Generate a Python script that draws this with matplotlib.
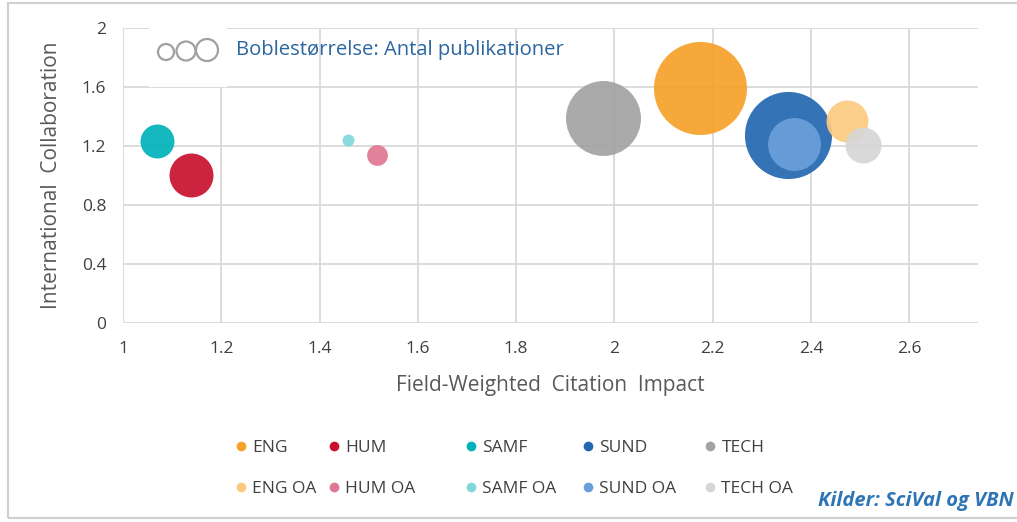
import matplotlib.pyplot as plt
from matplotlib.lines import Line2D
from matplotlib.patches import Ellipse, Rectangle
import numpy as np

plt.rcParams['font.family'] = ['Open Sans', 'DejaVu Sans']

# faculties, main series and open access series
names = ['ENG', 'HUM', 'SAMF', 'SUND', 'TECH']
oa_names = ['ENG OA', 'HUM OA', 'SAMF OA', 'SUND OA', 'TECH OA']

fwci = [2.175, 1.138, 1.069, 2.354, 1.977]
collab = [1.593, 1.003, 1.234, 1.275, 1.390]
pubs = [3000, 670, 400, 2630, 1950]

fwci_oa = [2.474, 1.517, 1.458, 2.365, 2.505]
collab_oa = [1.369, 1.139, 1.241, 1.214, 1.209]
pubs_oa = [610, 150, 50, 970, 450]

colors = ['#F7A12A', '#C8102E', '#00B2B9', '#2467B1', '#A3A3A3']
colors_oa = ['#FBCA80', '#E07792', '#80D8DC', '#6A9FDA', '#D6D6D6']

xticks = [1, 1.2, 1.4, 1.6, 1.8, 2, 2.2, 2.4, 2.6]
yticks = [0, 0.4, 0.8, 1.2, 1.6, 2]

W, H = 1017, 522
fig = plt.figure(figsize=(W / 100, H / 100), dpi=100)
ax = fig.add_axes([123 / W, 1 - 323 / H, (978 - 123) / W, (323 - 28) / H])

# bubble area proportional to number of publications
max_d = 93 * 0.72  # largest bubble diameter in points
scale = max_d ** 2 / max(pubs)
for i in range(5):
    ax.scatter(fwci[i], collab[i], s=pubs[i] * scale, color=colors[i],
               alpha=0.92, linewidths=0, zorder=3)
for i in range(5):
    ax.scatter(fwci_oa[i], collab_oa[i], s=pubs_oa[i] * scale, color=colors_oa[i],
               alpha=0.92, linewidths=0, zorder=3)

ax.set_xlim(1, 2.74)
ax.set_ylim(0, 2)
ax.set_xticks(xticks)
ax.set_xticklabels([f'{v:g}' for v in xticks])
ax.set_yticks(yticks)
ax.set_yticklabels([f'{v:g}' for v in yticks])
ax.grid(True, color='#D9D9D9', linewidth=1.3)
ax.set_axisbelow(True)
for s in ax.spines.values():
    s.set_visible(False)
ax.tick_params(length=0, labelsize=12.5, colors='#404040', pad=13)
ax.tick_params(axis='y', pad=12)

ax.set_xlabel('Field-Weighted  Citation  Impact', fontsize=15, color='#595959', labelpad=13)
ax.set_ylabel('International  Collaboration', fontsize=15, color='#595959', labelpad=14)

# bubble size note with little circle icon
fig.add_artist(Rectangle((149 / W, 1 - 87 / H), 78 / W, 62 / H, facecolor='white',
                         edgecolor='none', transform=fig.transFigure, zorder=5))
for cx, cy, d in [(166, 52, 16), (186, 51, 19), (207, 50, 22)]:
    fig.add_artist(Ellipse((cx / W, 1 - cy / H), d / W, d / H, facecolor='none',
                           edgecolor='#A0A0A0', linewidth=1.6,
                           transform=fig.transFigure, zorder=6))
fig.text(236 / W, 1 - 50 / H, 'Boblestørrelse: Antal publikationer', fontsize=14.6,
         color='#2A66A0', va='center', ha='left', zorder=6)

# legend, one small legend per column
col_x = [236, 329, 466, 583, 705]
for i in range(5):
    h = [Line2D([], [], marker='o', linestyle='none', markersize=7,
                markerfacecolor=colors[i], markeredgewidth=0, label=names[i]),
         Line2D([], [], marker='o', linestyle='none', markersize=7,
                markerfacecolor=colors_oa[i], markeredgewidth=0, label=oa_names[i])]
    fig.legend(handles=h, loc='upper left', bbox_to_anchor=(col_x[i] / W, 1 - 440 / H),
               frameon=False, fontsize=12.5, handlelength=0.6, handletextpad=0.35,
               labelspacing=1.4, borderpad=0, borderaxespad=0, labelcolor='#404040')

fig.text(818 / W, 1 - 501 / H, 'Kilder: SciVal og VBN', fontsize=14.5, color='#2E75B6',
         fontweight='bold', fontstyle='italic', va='center', ha='left')

# outer frame
fig.add_artist(Rectangle((8 / W, 1 - 518 / H), 1100 / W, 515 / H, facecolor='none',
                         edgecolor='#D0D0D0', linewidth=1.5, transform=fig.transFigure))

fig.savefig('out.png', dpi=100)
